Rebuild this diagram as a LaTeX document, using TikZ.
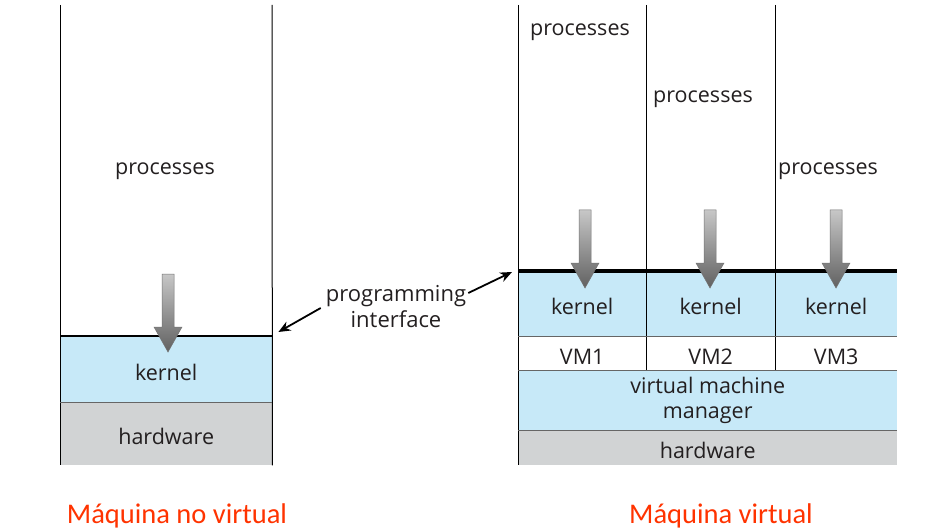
\documentclass[tikz,border=0pt]{standalone}
\usepackage{fontspec}
\setmainfont{Open Sans}
\newfontfamily\captfont{Carlito}
\usetikzlibrary{arrows.meta,positioning}
\definecolor{kernblue}{HTML}{C7E9F8}
\definecolor{hwgray}{HTML}{D1D3D4}
\definecolor{captred}{HTML}{FF3300}
\definecolor{inkgray}{HTML}{231F20}

\begin{document}
\begin{tikzpicture}[x=1pt, y=-1pt, every node/.style={inner sep=0pt, text=inkgray, font=\fontsize{21.5}{25}\selectfont},
    layer/.style={minimum width=#1, anchor=north west},
    oneline/.style={text height=22pt, text depth=0pt},
    kernbox/.style={fill=kernblue},
    hwbox/.style={fill=hwgray},
    wall/.style={draw=black, line width=1pt},
    seam/.style={draw=black!60, line width=0.7pt},
    ptr/.style={-{Stealth[length=12pt,width=10pt]}, line width=1.8pt, black},
    caption/.style={text=captred, font=\captfont\fontsize{28.5}{30}\selectfont}]

\useasboundingbox (0,0) rectangle (944,529);

% no virtual machine
\node[layer=212, oneline, kernbox, minimum height=66] (kl) at (60,336) {kernel};
\node[layer=212, oneline, hwbox, minimum height=63] (hl) at (60,402) {hardware};
\node (pl) at (165,171) {processes};

% virtual machine
\node[layer=128, oneline, kernbox, minimum height=65] (k1) at (518,271) {kernel};
\node[layer=129, oneline, kernbox, minimum height=65] (k2) at (646,271) {kernel};
\node[layer=122, oneline, kernbox, minimum height=65] (k3) at (775,271) {kernel};
\node[layer=128, oneline, minimum height=34] (v1) at (518,336) {VM1};
\node[layer=129, oneline, minimum height=34] (v2) at (646,336) {VM2};
\node[layer=122, oneline, minimum height=34] (v3) at (775,336) {VM3};
\node[layer=379, kernbox, minimum height=60, align=center] (vmm) at (518,370) {virtual machine\\manager};
\node[layer=379, oneline, hwbox, minimum height=35] (hr) at (518,430) {hardware};
\node (p1) at (580,32) {processes};
\node (p2) at (703,99) {processes};
\node (p3) at (828,171) {processes};

\draw[wall] (60,5) -- (hl.south west);
\draw[wall] (272,5) -- (hl.south east);
\draw[line width=2.4pt] (kl.north west) -- (kl.north east);
\draw[seam] (kl.south west) -- (kl.south east);

\draw[wall] (518,5) -- (hr.south west);
\draw[wall] (646,5) -- (v2.south west);
\draw[wall] (775,5) -- (v3.south west);
\draw[seam] (k1.south west) -- (k3.south east);
\draw[seam] (vmm.north west) -- (vmm.north east);
\draw[seam] (hr.north west) -- (hr.north east);
\draw[line width=4pt] (k1.north west) -- (k3.north east);

\foreach \x/\y in {168/274, 585/210, 710/210, 836/210}
  \shade[top color=black!22, bottom color=black!62, draw=black!55, line width=0.5pt]
    (\x-6,\y) -- (\x+6,\y) -- (\x+6,\y+53) -- (\x+14,\y+53) -- (\x,\y+78)
    -- (\x-14,\y+53) -- (\x-6,\y+53) -- cycle;

\node[align=center, font=\fontsize{22}{26}\selectfont] (pi) at (396,307) {programming\\interface};
\coordinate (ltip) at ([shift={(6,-4)}]kl.north east);
\coordinate (rtip) at ([shift={(-6,1)}]k1.north west);
\draw[ptr] ([shift={(-5,1)}]pi.west) -- (ltip);
\draw[ptr] ([shift={(2,-14)}]pi.east) -- (rtip);

\node[caption] (cl) at (177,516) {Máquina no virtual};
\node[caption] (cr) at (721,516) {Máquina virtual};

\end{tikzpicture}
\end{document}
